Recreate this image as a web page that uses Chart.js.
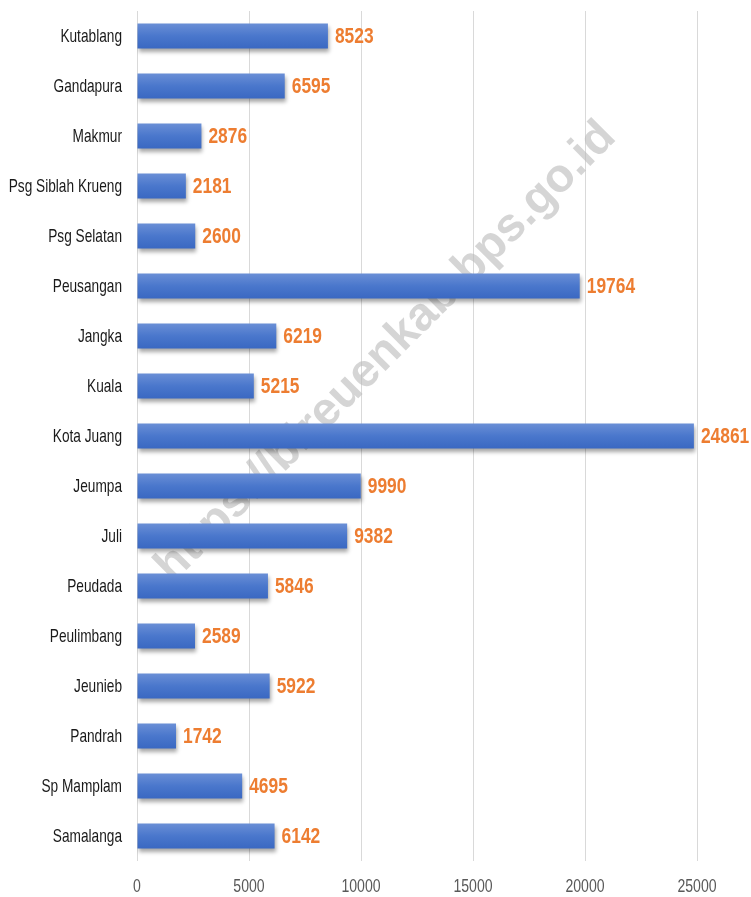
<!DOCTYPE html>
<html>
<head>
<meta charset="utf-8">
<script src="https://cdn.jsdelivr.net/npm/chart.js@4"></script>
<style>
    html, body { margin: 0; padding: 0; background: #ffffff; }
    #wrap { width: 751px; height: 897px; }
</style>
</head>
<body>
<div id="wrap"><canvas id="myChart"></canvas></div>
<script>
const kecamatan = [
    "Kutablang", "Gandapura", "Makmur", "Psg Siblah Krueng", "Psg Selatan",
    "Peusangan", "Jangka", "Kuala", "Kota Juang", "Jeumpa", "Juli",
    "Peudada", "Peulimbang", "Jeunieb", "Pandrah", "Sp Mamplam", "Samalanga"
];
const nilai = [8523, 6595, 2876, 2181, 2600, 19764, 6219, 5215, 24861, 9990, 9382, 5846, 2589, 5922, 1742, 4695, 6142];
const xTicks = [0, 5000, 10000, 15000, 20000, 25000];

// no narrow font installed, so text is squeezed horizontally
const fontFam = "'Liberation Sans', Arial, sans-serif";

function narrowText(ctx, text, x, y, align, squeeze) {
    ctx.save();
    ctx.translate(x, y);
    ctx.scale(squeeze, 1);
    ctx.textAlign = align;
    ctx.fillText(text, 0, 0);
    ctx.restore();
}

// watermark under the bars
const watermark = {
    id: "watermark",
    beforeDatasetsDraw(chart) {
        const ctx = chart.ctx;
        ctx.save();
        ctx.translate(386, 352);
        ctx.rotate(-Math.PI / 4);
        ctx.font = "bold 47px " + fontFam;
        ctx.fillStyle = "rgba(185,185,185,0.6)";
        ctx.textAlign = "center";
        ctx.textBaseline = "middle";
        ctx.fillText("https://bireuenkab.bps.go.id", 0, 0);
        ctx.restore();
    }
};

// drop shadow on bars
const barShadow = {
    id: "barShadow",
    beforeDatasetDraw(chart) {
        const ctx = chart.ctx;
        ctx.save();
        ctx.shadowColor = "rgba(0,0,0,0.35)";
        ctx.shadowBlur = 4;
        ctx.shadowOffsetX = 1;
        ctx.shadowOffsetY = 3;
    },
    afterDatasetDraw(chart) {
        chart.ctx.restore();
    }
};

// axis labels and orange value labels
const textLayer = {
    id: "textLayer",
    afterDatasetsDraw(chart) {
        const ctx = chart.ctx;
        const xs = chart.scales.x;
        const ys = chart.scales.y;
        const meta = chart.getDatasetMeta(0);
        ctx.save();
        ctx.textBaseline = "middle";

        ctx.font = "19px " + fontFam;
        ctx.fillStyle = "#1a1a1a";
        kecamatan.forEach((k, i) => {
            narrowText(ctx, k, ys.right - 15, ys.getPixelForValue(i) + 1, "right", 0.72);
        });

        ctx.fillStyle = "#595959";
        xTicks.forEach(v => {
            narrowText(ctx, String(v), xs.getPixelForValue(v), xs.top + 26, "center", 0.74);
        });

        ctx.font = "bold 22px " + fontFam;
        ctx.fillStyle = "#ED7D31";
        meta.data.forEach((bar, i) => {
            narrowText(ctx, String(nilai[i]), bar.x + 7, bar.y + 1, "left", 0.79);
        });
        ctx.restore();
    }
};

function barGradient(context) {
    const chart = context.chart;
    const yScale = chart.scales.y;
    if (!chart.chartArea || !yScale) return "#4472C4";
    const cy = yScale.getPixelForValue(context.dataIndex);
    if (!Number.isFinite(cy)) return "#4472C4";
    const h = 25;
    const g = chart.ctx.createLinearGradient(0, cy - h / 2, 0, cy + h / 2);
    g.addColorStop(0, "#6a8fd6");
    g.addColorStop(0.5, "#4a77cc");
    g.addColorStop(1, "#3a68c2");
    return g;
}

const ctx = document.getElementById("myChart");

new Chart(ctx, {
    type: "bar",
    data: {
        labels: kecamatan,
        datasets: [{
            data: nilai,
            backgroundColor: barGradient,
            borderWidth: 0,
            barPercentage: 0.5,
            categoryPercentage: 1.0
        }]
    },
    options: {
        indexAxis: "y",
        responsive: true,
        maintainAspectRatio: false,
        animation: false,
        layout: {
            padding: { top: 11, right: 54, left: 0, bottom: 0 }
        },
        plugins: {
            legend: { display: false },
            tooltip: { enabled: false }
        },
        scales: {
            x: {
                min: 0,
                max: 25000,
                afterBuildTicks(scale) {
                    scale.ticks = xTicks.map(v => ({ value: v }));
                },
                afterFit(scale) {
                    scale.height = 36;
                },
                grid: { color: "#d9d9d9", drawTicks: false },
                border: { display: false },
                ticks: { display: false }
            },
            y: {
                afterFit(scale) {
                    scale.width = 137;
                },
                grid: { display: false, drawTicks: false },
                border: { display: false },
                ticks: { display: false }
            }
        }
    },
    plugins: [watermark, barShadow, textLayer]
});
</script>
</body>
</html>
